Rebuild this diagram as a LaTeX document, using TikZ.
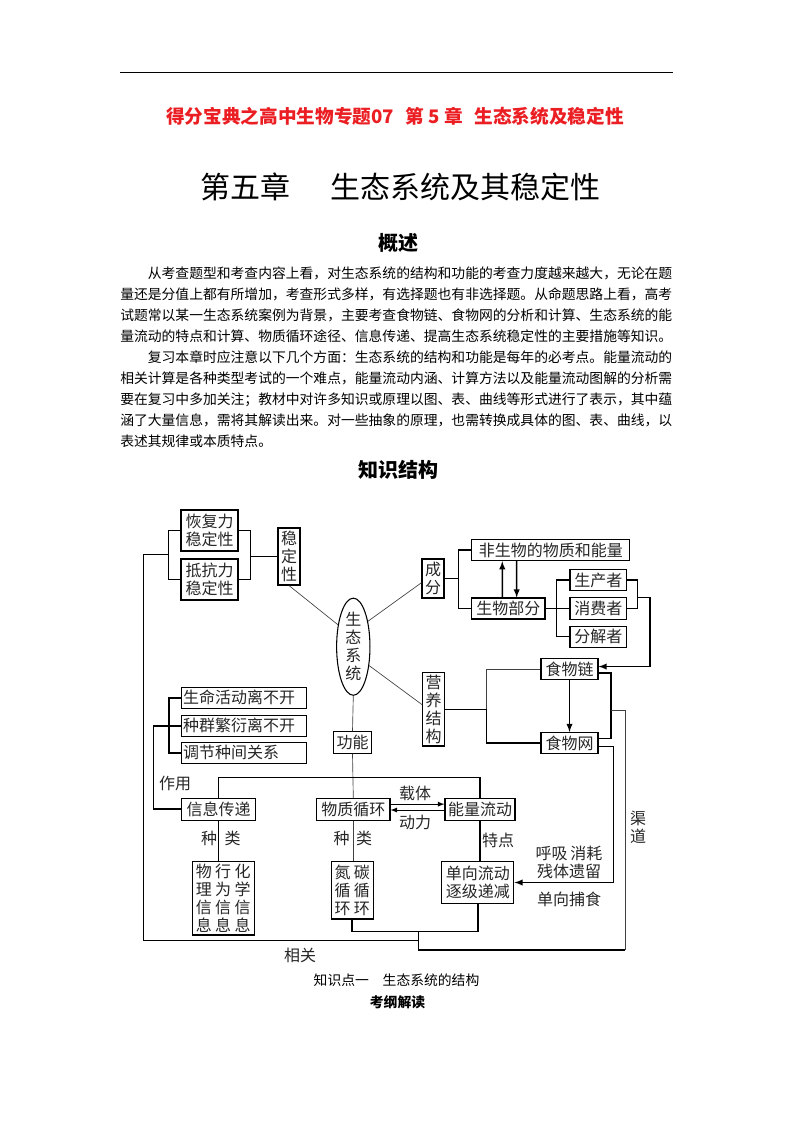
\documentclass[tikz,border=0pt]{standalone}
\usepackage{fontspec}
\setmainfont{Noto Sans CJK SC}
\usetikzlibrary{shapes.geometric}
\XeTeXlinebreaklocale "zh"
\XeTeXlinebreakskip=0pt plus 1pt
\definecolor{titlered}{RGB}{235,30,35}
\newcommand{\dgfont}{\fontsize{12}{13.5}\selectfont}
\tikzset{
  box/.style={draw, line width=0.8pt, inner sep=1pt, font=\dgfont, align=center, text=black!85},
  lnk/.style={line width=1.1pt},
  lnkthin/.style={line width=0.5pt, black!75},
  lnkmid/.style={line width=0.7pt},
  lbl/.style={font=\dgfont, text=black!85, inner sep=0pt, align=center},
  para/.style={anchor=base west, inner sep=0pt, font=\fontsize{10.35}{12}\selectfont},
}
\begin{document}
\begin{tikzpicture}[x=0.75pt,y=-0.75pt]
\useasboundingbox (0,0) rectangle (793,1122);

% page head
\draw [line width=0.7pt] (120,72) -- (673,72);
\node (ttl) at (395,116) {\fontsize{14}{16}\selectfont\bfseries\color{titlered}得分宝典之高中生物专题07\hspace{0.6em}第\hspace{0.25em}5\hspace{0.25em}章\hspace{0.6em}生态系统及稳定性};
\node (chp) at (245,187) {\fontsize{22.5}{26}\selectfont 第五章};
\node (chpname) at (465,187) {\fontsize{22.5}{26}\selectfont 生态系统及其稳定性};
\node (ovw) at (398,243) {\fontsize{15}{18}\selectfont\bfseries 概述};

% overview text
\node[para] (p1) at (120,278) {\makebox[414pt][s]{\hspace{2em}从考查题型和考查内容上看，对生态系统的结构和功能的考查力度越来越大，无论在题}};
\node[para] (p2) at (120,299) {\makebox[414pt][s]{量还是分值上都有所增加，考查形式多样，有选择题也有非选择题。从命题思路上看，高考}};
\node[para] (p3) at (120,320) {\makebox[414pt][s]{试题常以某一生态系统案例为背景，主要考查食物链、食物网的分析和计算、生态系统的能}};
\node[para] (p4) at (120,341) {\makebox[414pt][s]{量流动的特点和计算、物质循环途径、信息传递、提高生态系统稳定性的主要措施等知识。}};
\node[para] (p5) at (120,362) {\makebox[414pt][s]{\hspace{2em}复习本章时应注意以下几个方面：生态系统的结构和功能是每年的必考点。能量流动的}};
\node[para] (p6) at (120,383) {\makebox[414pt][s]{相关计算是各种类型考试的一个难点，能量流动内涵、计算方法以及能量流动图解的分析需}};
\node[para] (p7) at (120,404) {\makebox[414pt][s]{要在复习中多加关注；教材中对许多知识或原理以图、表、曲线等形式进行了表示，其中蕴}};
\node[para] (p8) at (120,425) {\makebox[414pt][s]{涵了大量信息，需将其解读出来。对一些抽象的原理，也需转换成具体的图、表、曲线，以}};
\node[para] (p9) at (120,446) {表述其规律或本质特点。};

\node (zsjg) at (398,470) {\fontsize{15}{18}\selectfont\bfseries 知识结构};

% boxes
\node[box, minimum width=42.75pt, minimum height=30.75pt] (hf) at (209.5,530.5) {恢复力\\稳定性};
\node[box, minimum width=42.75pt, minimum height=30.75pt] (dk) at (209.5,579.5) {抵抗力\\稳定性};
\node[box, minimum width=16.5pt, minimum height=42.75pt] (wdx) at (289,556.5) {稳\\定\\性};
\node[box, ellipse, minimum width=25pt, minimum height=65pt, inner sep=0pt] (stxt) at (353.3,646.7) {生\\态\\系\\统};
\node[box, minimum width=16.5pt, minimum height=29.25pt] (cf) at (433,578.5) {成\\分};
\node[box, minimum width=118.7pt, minimum height=16pt] (fsw) at (550.8,550) {非生物的物质和能量};
\node[box, minimum width=55pt, minimum height=15.75pt] (swbf) at (508.3,608.5) {生物部分};
\node[box, minimum width=42.5pt, minimum height=16pt] (scz) at (598.3,580) {生产者};
\node[box, minimum width=42.5pt, minimum height=16pt] (xfz) at (598.3,608.5) {消费者};
\node[box, minimum width=42.5pt, minimum height=16pt] (fjz) at (598.3,636.7) {分解者};
\node[box, minimum width=42.75pt, minimum height=15.75pt] (swl) at (569.5,669.2) {食物链};
\node[box, minimum width=42.75pt, minimum height=15.75pt] (sww) at (569.5,743) {食物网};
\node[box, minimum width=16.2pt, minimum height=55pt] (yyjg) at (433.5,709.3) {营\\养\\结\\构};
\node[box, minimum width=28.8pt, minimum height=16.2pt] (gn) at (352.5,742.5) {功能};
\node[box, text width=91.75pt, align=left, minimum height=16.1pt] (smhd) at (244.2,697.8) {生命活动离不开};
\node[box, text width=91.75pt, align=left, minimum height=16.1pt] (zqfy) at (244.2,725.8) {种群繁衍离不开};
\node[box, text width=91.75pt, align=left, minimum height=16.1pt] (tjzj) at (244.2,752.8) {调节种间关系};
\node[box, minimum width=55.5pt, minimum height=16.3pt] (xxcd) at (218.7,809.2) {信息传递};
\node[box, minimum width=55pt, minimum height=16.3pt] (wzxh) at (353.3,809.2) {物质循环};
\node[box, minimum width=52.5pt, minimum height=16.3pt] (nlld) at (480,809.2) {能量流动};
\node[box, minimum width=46.3pt, minimum height=55pt] (wlxx) at (223.2,898.3) {物\hspace{2.5pt}行\hspace{2.5pt}化\\理\hspace{2.5pt}为\hspace{2.5pt}学\\信\hspace{2.5pt}信\hspace{2.5pt}信\\息\hspace{2.5pt}息\hspace{2.5pt}息};
\node[box, minimum width=31.7pt, minimum height=43pt] (dtxh) at (352.2,890.3) {氮\hspace{2.5pt}碳\\循\hspace{2.5pt}循\\环\hspace{2.5pt}环};
\node[box, minimum width=54.2pt, minimum height=31.2pt] (dxld) at (477.8,882.5) {单向流动\\逐级递减};

% labels
\node[lbl] (zy) at (175,783.3) {作用};
\node[lbl] (zla) at (209,838.3) {种};
\node[lbl] (zlb) at (232.5,838.3) {类};
\node[lbl] (zlc) at (341.7,838.3) {种};
\node[lbl] (zld) at (364,838.3) {类};
\node[lbl] (zt) at (415,793.3) {载体};
\node[lbl] (dl) at (415,822.7) {动力};
\node[lbl] (td) at (498,840) {特点};
\node[lbl] (hxxh) at (569,862.5) {呼吸\hspace{2pt}消耗\\残体遗留};
\node[lbl] (dxbs) at (569,899.3) {单向捕食};
\node[lbl] (qd) at (638,827) {渠\\道};
\node[lbl] (xg) at (300,955) {相关};

% stability
\coordinate (hl) at (168.3,554.5);
\coordinate (hr) at (250.7,556.5);
\coordinate (mlt) at (143.3,554.5);
\coordinate (mlb) at (143.3,940.7);
\coordinate (jm) at (418.3,940.7);
\draw [lnk] (hf.west) -| (hl) |- (dk.west);
\draw [lnk] (hf.east) -| (hr) |- (dk.east);
\draw [lnk] (hr) -- (wdx.west);
\draw [lnk] (hl) -- (mlt) -- (mlb) -- (jm);

% spokes of the ecosystem
\draw [lnkthin] (wdx.south) -- (stxt.125);
\draw [lnkthin] (stxt.60) -- (cf.200);
\draw [lnkthin] (stxt.-50) -- (yyjg.158);
\draw [lnkthin] (stxt.south) -- (gn.north);
\draw [lnkthin] (gn.south) -- (wzxh.north);

% components
\coordinate (cb) at (458.3,578.5);
\draw [lnk] (cf.east) -- (cb);
\draw [lnk] (fsw.west) -| (cb) |- (swbf.west);
\draw [lnk,-latex] ([xshift=-4.5pt]swbf.north) -- ([xshift=-36.4pt]fsw.south);
\draw [lnk,-latex] ([xshift=-25.6pt]fsw.south) -- ([xshift=6.3pt]swbf.north);
\coordinate (bb) at (556.7,608.5);
\draw [lnk] (swbf.east) -- (bb);
\draw [lnk] (scz.west) -| (bb) |- (fjz.west);
\draw [lnk] (xfz.west) -- (bb);
\coordinate (cx) at (637.3,597.3);
\coordinate (cxr) at (650,597.3);
\draw [lnk] (scz.east) -| (cx) |- (xfz.east);
\draw [lnk,-latex] (cx) -- (cxr) |- ([yshift=2pt]swl.east);

% food chain and web
\draw [lnk,-latex] (swl) -- (sww);
\coordinate (lp) at (611,710);
\draw [lnk] ([yshift=3.5pt]sww.east) -| (lp) |- ([yshift=-3pt]swl.east);
\coordinate (yb) at (486.7,709.3);
\draw [lnk] (yyjg.east) -- (yb) |- (sww.west);
\draw [lnkthin] (yb) |- (swl.west);

% channel
\coordinate (qr) at (625,950);
\coordinate (jb) at (418.3,950);
\coordinate (jt) at (418.3,931.7);
\draw [lnkthin] (lp) -| (qr);
\draw [lnk] (qr) -- (jb) -- (jt);
\coordinate (ep) at (613.3,882.5);
\draw [lnk,-latex] ([yshift=-2.7pt]sww.east) -| (ep) -- (dxld.east);

% functions
\coordinate (ft) at (480,777.3);
\draw [lnk] (xxcd.north) |- (ft) -- (nlld.north);
\draw [lnkmid,-latex] ([yshift=3.8pt]wzxh.east) -- ([yshift=3.8pt]nlld.west);
\draw [lnkmid,latex-] ([yshift=-0.6pt]wzxh.east) -- ([yshift=-0.6pt]nlld.west);
\coordinate (ib) at (169,725.8);
\coordinate (ia) at (153.3,725.8);
\draw [lnk] (smhd.west) -| (ib) |- (tjzj.west);
\draw [lnk] (zqfy.west) -- (ib);
\draw [lnk] (ib) -- (ia) |- (xxcd.west);
\draw [lnk] (xxcd.south) -- (xxcd.south |- wlxx.north);
\draw [lnkthin] (wzxh.south) -- (wzxh.south |- dtxh.north);
\draw [lnk] (nlld.south) -- (nlld.south |- dxld.north);
\draw [lnk] (dtxh.south) |- (jt) -| (dxld.south);

% caption
\node (kp) at (396.5,980) {\fontsize{10.35}{12}\selectfont 知识点一　生态系统的结构};
\node (kgjd) at (397.5,1002) {\fontsize{10.35}{12}\selectfont\bfseries 考纲解读};
\end{tikzpicture}
\end{document}
